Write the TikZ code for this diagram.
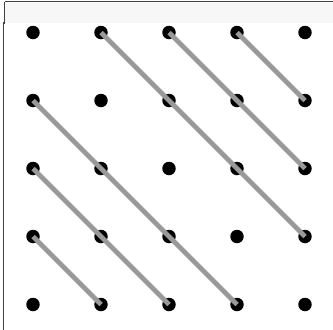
\documentclass[tikz,border=0pt]{standalone}
\begin{document}
\begin{tikzpicture}[x=1pt,y=-1pt,
  dot/.style={circle,fill=black,inner sep=0pt,minimum size=13.5pt},
  link/.style={draw=black!40,line width=4.8pt,line cap=butt},
  frame/.style={draw=black!75,line width=1.3pt}]
\useasboundingbox (0,0) rectangle (333,330);
\fill[black!3] (4.5,2.5) rectangle (333,23);
\draw[frame] (4.5,1.5) -- (333,1.5);
\draw[frame] (4.5,1.5) -- (4.5,23) -- (3.8,23) -- (3.8,330);
\foreach \i in {0,...,4}{
  \foreach \j in {0,...,4}{
    \node[dot] (d\i\j) at ({33+68*\i},{32.5+68*\j}) {};
  }
}
\draw[link] (d10.center) -- (d43.center);
\draw[link] (d20.center) -- (d42.center);
\draw[link] (d30.center) -- (d41.center);
\draw[link] (d01.center) -- (d34.center);
\draw[link] (d02.center) -- (d24.center);
\draw[link] (d03.center) -- (d14.center);
\end{tikzpicture}
\end{document}
